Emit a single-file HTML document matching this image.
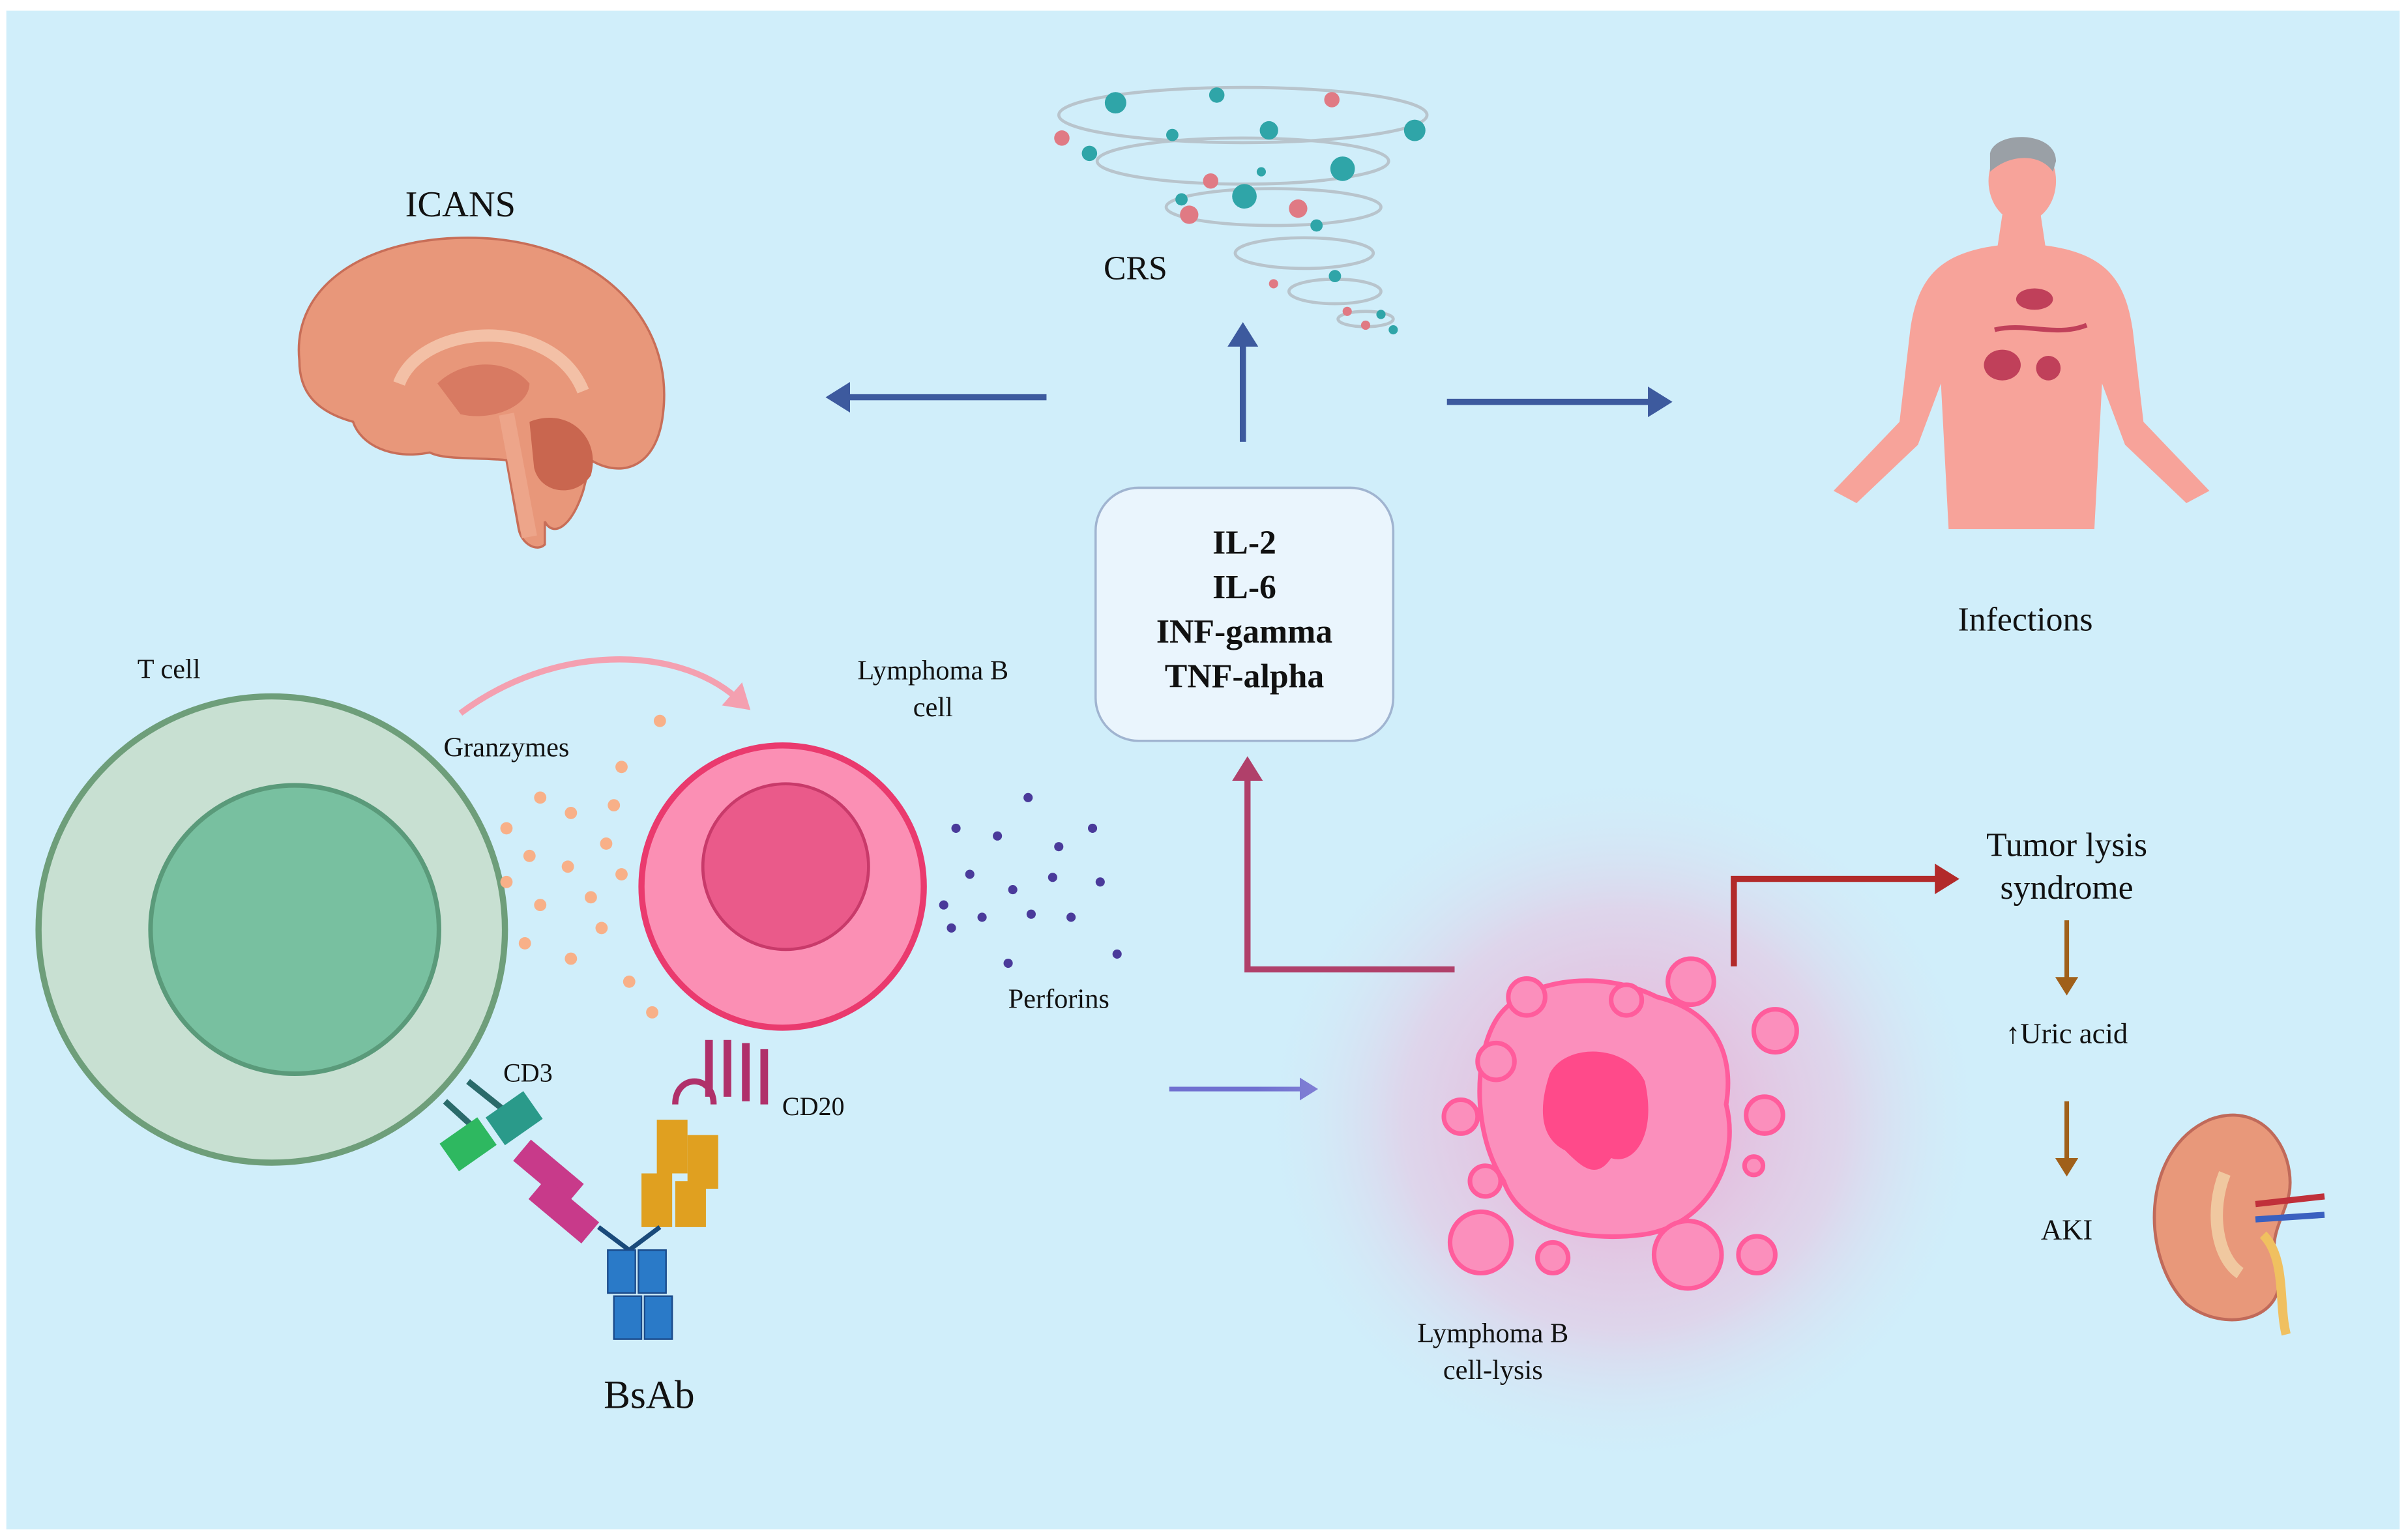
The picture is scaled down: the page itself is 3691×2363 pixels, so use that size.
<!DOCTYPE html>
<html><head><meta charset="utf-8"><style>
html,body{margin:0;padding:0;background:#fff;}
svg{display:block;}
text{font-family:"Liberation Serif",serif;fill:#111;}
</style></head><body>
<svg width="3691" height="2363" viewBox="0 0 1568 1004" xmlns="http://www.w3.org/2000/svg">
<defs>
<radialGradient id="glow" cx="50%" cy="50%" r="50%">
<stop offset="0%" stop-color="#ff6fb0" stop-opacity="0.55"/>
<stop offset="60%" stop-color="#f7a8d0" stop-opacity="0.35"/>
<stop offset="100%" stop-color="#d0eefa" stop-opacity="0"/>
</radialGradient>
<marker id="ab" markerWidth="6" markerHeight="6" refX="1" refY="2.5" orient="auto" markerUnits="strokeWidth"><path d="M0,0 L4,2.5 L0,5 z" fill="#3d5a9e"/></marker>
<marker id="am" markerWidth="6" markerHeight="6" refX="1" refY="2.5" orient="auto" markerUnits="strokeWidth"><path d="M0,0 L4,2.5 L0,5 z" fill="#b0406a"/></marker>
<marker id="ar" markerWidth="6" markerHeight="6" refX="1" refY="2.5" orient="auto" markerUnits="strokeWidth"><path d="M0,0 L4,2.5 L0,5 z" fill="#b22a2a"/></marker>
<marker id="ao" markerWidth="6" markerHeight="6" refX="1" refY="2.5" orient="auto" markerUnits="strokeWidth"><path d="M0,0 L4,2.5 L0,5 z" fill="#a0601a"/></marker>
<marker id="ap" markerWidth="6" markerHeight="6" refX="1" refY="2.5" orient="auto" markerUnits="strokeWidth"><path d="M0,0 L4,2.5 L0,5 z" fill="#7070d0"/></marker>
<marker id="ak" markerWidth="6" markerHeight="6" refX="1" refY="2.5" orient="auto" markerUnits="strokeWidth"><path d="M0,0 L4,2.5 L0,5 z" fill="#f4a0b0"/></marker>
</defs>
<rect x="4" y="7" width="1560" height="990" fill="#d0eefa"/>

<!-- brain -->
<text x="300" y="141" font-size="24" text-anchor="middle">ICANS</text>
<path d="M195,235 C190,185 240,155 305,155 C385,155 440,205 432,270 C428,305 405,312 385,300 L380,320 C372,345 360,350 355,340 L355,355 C350,360 340,355 338,345 L330,300 C310,298 290,300 280,295 C255,300 235,290 230,275 C205,268 195,255 195,235 z" fill="#e8977a" stroke="#c86e58" stroke-width="1.5"/>
<path d="M260,250 C275,210 360,205 380,255" fill="none" stroke="#f3c0a6" stroke-width="8"/>
<path d="M285,250 C300,235 330,232 345,250 C345,265 320,275 300,270 z" fill="#d87a62"/>
<path d="M345,275 C370,265 392,285 385,310 C375,325 352,322 348,305 z" fill="#c9664f"/>
<path d="M330,270 L345,350" stroke="#eda58a" stroke-width="10"/>

<!-- CRS tornado -->
<g fill="none" stroke="#b8c4cc" stroke-width="2">
<ellipse cx="810" cy="75" rx="120" ry="18"/>
<ellipse cx="810" cy="105" rx="95" ry="15"/>
<ellipse cx="830" cy="135" rx="70" ry="12"/>
<ellipse cx="850" cy="165" rx="45" ry="10"/>
<ellipse cx="870" cy="190" rx="30" ry="8"/>
<ellipse cx="890" cy="208" rx="18" ry="5"/>
</g>
<g fill="#2fa5a8">
<circle cx="727" cy="67" r="7"/><circle cx="793" cy="62" r="5"/><circle cx="922" cy="85" r="7"/><circle cx="827" cy="85" r="6"/>
<circle cx="875" cy="110" r="8"/><circle cx="764" cy="88" r="4"/><circle cx="811" cy="128" r="8"/><circle cx="710" cy="100" r="5"/>
<circle cx="858" cy="147" r="4"/><circle cx="822" cy="112" r="3"/><circle cx="870" cy="180" r="4"/><circle cx="900" cy="205" r="3"/><circle cx="770" cy="130" r="4"/><circle cx="908" cy="215" r="3"/>
</g>
<g fill="#e07a84">
<circle cx="692" cy="90" r="5"/><circle cx="868" cy="65" r="5"/><circle cx="846" cy="136" r="6"/><circle cx="789" cy="118" r="5"/><circle cx="775" cy="140" r="6"/><circle cx="830" cy="185" r="3"/><circle cx="878" cy="203" r="3"/><circle cx="890" cy="212" r="3"/>
</g>
<text x="740" y="182" font-size="22" text-anchor="middle">CRS</text>

<!-- arrows top -->
<line x1="682" y1="259" x2="550" y2="259" stroke="#3d5a9e" stroke-width="4" marker-end="url(#ab)"/>
<line x1="810" y1="288" x2="810" y2="222" stroke="#3d5a9e" stroke-width="4" marker-end="url(#ab)"/>
<line x1="943" y1="262" x2="1078" y2="262" stroke="#3d5a9e" stroke-width="4" marker-end="url(#ab)"/>

<!-- human -->
<g fill="#f7a39a">
<ellipse cx="1318" cy="118" rx="22" ry="27"/>
<path d="M1305,140 L1330,140 L1333,160 C1370,165 1385,180 1390,215 L1397,275 L1440,320 L1425,328 L1385,290 L1370,250 L1365,345 L1270,345 L1265,250 L1250,290 L1210,328 L1195,320 L1238,275 L1245,215 C1250,180 1265,165 1302,160 z"/>
</g>
<path d="M1297,100 C1300,85 1340,85 1340,105 L1338,112 C1330,100 1310,100 1297,112 z" fill="#9aa0a6"/>
<g fill="#c0405a"><ellipse cx="1326" cy="195" rx="12" ry="7"/><ellipse cx="1305" cy="238" rx="12" ry="10"/><ellipse cx="1335" cy="240" rx="8" ry="8"/><path d="M1300,215 C1320,210 1340,220 1360,212" stroke="#c0405a" stroke-width="3" fill="none"/></g>
<text x="1320" y="411" font-size="22" text-anchor="middle">Infections</text>

<!-- cytokine box -->
<rect x="714" y="318" width="194" height="165" rx="28" fill="#eaf5fd" stroke="#a0b4d0" stroke-width="1.5"/>
<g font-size="22" text-anchor="middle" font-weight="bold">
<text x="811" y="361">IL-2</text><text x="811" y="390">IL-6</text><text x="811" y="419">INF-gamma</text><text x="811" y="448">TNF-alpha</text>
</g>

<!-- T cell -->
<text x="110" y="442" font-size="18" text-anchor="middle">T cell</text>
<circle cx="177" cy="606" r="152" fill="#c8e0d2" stroke="#6e9e7a" stroke-width="4"/>
<circle cx="192" cy="606" r="94" fill="#78c0a0" stroke="#5a9a7a" stroke-width="3"/>
<text x="330" y="493" font-size="18" text-anchor="middle">Granzymes</text>
<path d="M300,465 C360,420 440,420 480,455" fill="none" stroke="#f4a0b0" stroke-width="4" marker-end="url(#ak)"/>
<g fill="#f8b088">
<circle cx="330" cy="540" r="4"/><circle cx="352" cy="520" r="4"/><circle cx="372" cy="530" r="4"/><circle cx="400" cy="525" r="4"/><circle cx="345" cy="558" r="4"/><circle cx="370" cy="565" r="4"/><circle cx="395" cy="550" r="4"/><circle cx="330" cy="575" r="4"/><circle cx="352" cy="590" r="4"/><circle cx="385" cy="585" r="4"/><circle cx="405" cy="570" r="4"/><circle cx="342" cy="615" r="4"/><circle cx="372" cy="625" r="4"/><circle cx="392" cy="605" r="4"/><circle cx="410" cy="640" r="4"/><circle cx="430" cy="470" r="4"/><circle cx="425" cy="660" r="4"/><circle cx="405" cy="500" r="4"/>
</g>

<!-- lymphoma B -->
<text x="608" y="443" font-size="18" text-anchor="middle">Lymphoma B</text>
<text x="608" y="467" font-size="18" text-anchor="middle">cell</text>
<circle cx="510" cy="578" r="92" fill="#fb8fb4" stroke="#ea3a6e" stroke-width="4"/>
<circle cx="512" cy="565" r="54" fill="#ea5a8a" stroke="#c83a6a" stroke-width="2"/>
<g fill="#4a3a9a">
<circle cx="623" cy="540" r="3"/><circle cx="650" cy="545" r="3"/><circle cx="670" cy="520" r="3"/><circle cx="690" cy="552" r="3"/><circle cx="712" cy="540" r="3"/><circle cx="632" cy="570" r="3"/><circle cx="660" cy="580" r="3"/><circle cx="686" cy="572" r="3"/><circle cx="717" cy="575" r="3"/><circle cx="640" cy="598" r="3"/><circle cx="672" cy="596" r="3"/><circle cx="698" cy="598" r="3"/><circle cx="620" cy="605" r="3"/><circle cx="657" cy="628" r="3"/><circle cx="728" cy="622" r="3"/><circle cx="615" cy="590" r="3"/>
</g>
<text x="690" y="657" font-size="18" text-anchor="middle">Perforins</text>

<!-- receptors/antibody -->
<text x="344" y="705" font-size="17" text-anchor="middle">CD3</text>
<text x="530" y="727" font-size="17" text-anchor="middle">CD20</text>
<g stroke="#2a6a6a" stroke-width="4"><line x1="290" y1="718" x2="312" y2="738"/><line x1="305" y1="705" x2="330" y2="725"/></g>
<rect x="290" y="735" width="30" height="22" fill="#2eb860" transform="rotate(-35 305 746)"/>
<rect x="320" y="718" width="30" height="22" fill="#2a9a8a" transform="rotate(-35 335 729)"/>
<g fill="#c83a8a"><rect x="335" y="755" width="45" height="18" transform="rotate(40 357 764)"/><rect x="345" y="780" width="45" height="18" transform="rotate(40 367 789)"/></g>
<g stroke="#b0306a" stroke-width="5"><line x1="462" y1="678" x2="462" y2="715"/><line x1="474" y1="678" x2="474" y2="715"/><line x1="486" y1="680" x2="486" y2="718"/><line x1="498" y1="684" x2="498" y2="720"/></g>
<path d="M440,720 C440,700 465,700 465,720" fill="none" stroke="#b0306a" stroke-width="4"/>
<g fill="#e0a020"><rect x="428" y="730" width="20" height="35"/><rect x="448" y="740" width="20" height="35"/><rect x="418" y="765" width="20" height="35"/><rect x="440" y="770" width="20" height="30"/></g>
<g stroke="#1a4a7a" stroke-width="3" fill="none"><path d="M390,800 L410,815 L430,800"/></g>
<g fill="#2a7ac8" stroke="#1a4a8a" stroke-width="1"><rect x="396" y="815" width="18" height="28"/><rect x="416" y="815" width="18" height="28"/><rect x="400" y="845" width="18" height="28"/><rect x="420" y="845" width="18" height="28"/></g>
<text x="423" y="918" font-size="26" text-anchor="middle">BsAb</text>

<!-- arrow to lysis -->
<line x1="762" y1="710" x2="850" y2="710" stroke="#7070d0" stroke-width="3" marker-end="url(#ap)"/>

<!-- lysis cell -->
<ellipse cx="1058" cy="730" rx="240" ry="230" fill="url(#glow)"/>
<g fill="#fb8fbc" stroke="#ff5c9c" stroke-width="3">
<path d="M975,665 C990,640 1040,630 1080,650 C1120,660 1130,690 1125,720 C1135,760 1110,800 1070,805 C1030,810 990,800 980,770 C960,740 960,690 975,665 z"/>
<circle cx="1102" cy="640" r="15"/><circle cx="1060" cy="652" r="10"/><circle cx="995" cy="650" r="12"/><circle cx="975" cy="692" r="12"/><circle cx="952" cy="728" r="11"/>
<circle cx="1157" cy="672" r="14"/><circle cx="1150" cy="727" r="12"/><circle cx="968" cy="770" r="10"/><circle cx="965" cy="810" r="20"/><circle cx="1012" cy="820" r="10"/>
<circle cx="1100" cy="818" r="22"/><circle cx="1145" cy="818" r="12"/><circle cx="1143" cy="760" r="6"/>
</g>
<path d="M1010,700 C1020,680 1060,680 1072,705 C1080,740 1065,760 1050,755 C1040,770 1030,760 1020,750 C1000,740 1005,715 1010,700 z" fill="#ff4a8a"/>
<text x="973" y="875" font-size="18" text-anchor="middle">Lymphoma B</text>
<text x="973" y="899" font-size="18" text-anchor="middle">cell-lysis</text>

<!-- magenta arrow up -->
<polyline points="948,632 813,632 813,505" fill="none" stroke="#b0406a" stroke-width="4" marker-end="url(#am)"/>
<!-- red arrow -->
<polyline points="1130,630 1130,573 1265,573" fill="none" stroke="#b22a2a" stroke-width="4" marker-end="url(#ar)"/>
<text x="1347" y="558" font-size="22" text-anchor="middle" font-family="Liberation Sans, sans-serif">Tumor lysis</text>
<text x="1347" y="586" font-size="22" text-anchor="middle" font-family="Liberation Sans, sans-serif">syndrome</text>
<line x1="1347" y1="600" x2="1347" y2="640" stroke="#a0601a" stroke-width="3" marker-end="url(#ao)"/>
<text x="1347" y="680" font-size="19" text-anchor="middle" font-family="Liberation Sans, sans-serif">↑Uric acid</text>
<line x1="1347" y1="718" x2="1347" y2="758" stroke="#a0601a" stroke-width="3" marker-end="url(#ao)"/>
<text x="1347" y="808" font-size="19" text-anchor="middle" font-family="Liberation Sans, sans-serif">AKI</text>

<!-- kidney -->
<path d="M1440,730 C1480,715 1500,760 1490,785 C1485,800 1478,810 1485,830 C1490,860 1450,870 1425,850 C1395,820 1395,750 1440,730 z" fill="#e8987a" stroke="#c06a5a" stroke-width="2"/>
<path d="M1450,765 C1440,790 1445,820 1460,830" fill="none" stroke="#f0c8a0" stroke-width="8"/>
<line x1="1470" y1="785" x2="1515" y2="780" stroke="#c0303a" stroke-width="4"/>
<line x1="1470" y1="795" x2="1515" y2="792" stroke="#3a60c0" stroke-width="4"/>
<path d="M1475,805 C1490,820 1485,850 1490,870" fill="none" stroke="#f0c060" stroke-width="6"/>
</svg>
</body></html>
